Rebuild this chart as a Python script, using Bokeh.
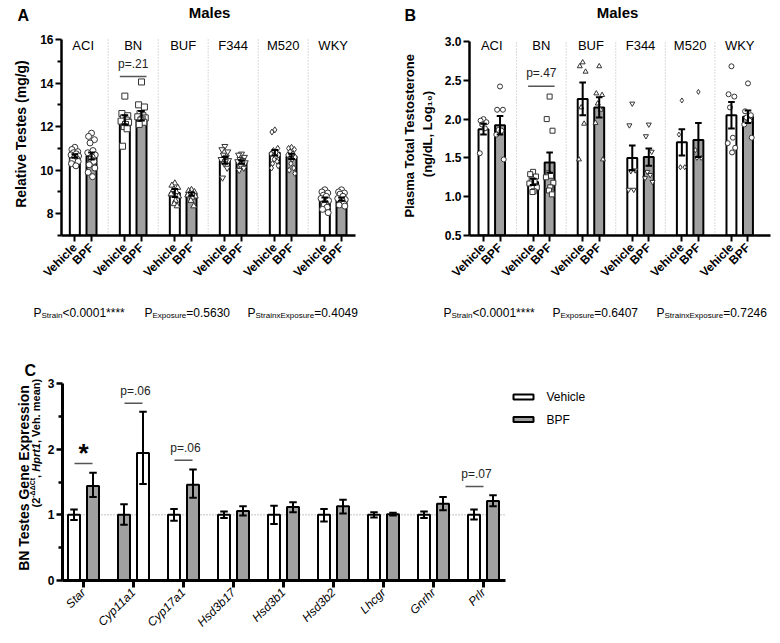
import math
from bokeh.plotting import figure
from bokeh.models import Range1d, FixedTicker, PrintfTickFormatter
from bokeh.layouts import column, row
from bokeh.embed import file_html
from bokeh.resources import INLINE
from bokeh.core.properties import value

# ======================= DATA =======================
strains = ["ACI", "BN", "BUF", "F344", "M520", "WKY"]
treatments = ["Vehicle", "BPF"]

# Panel A: relative testes weight (mg/g)
testes_veh_mean = [10.65, 12.30, 8.95, 10.45, 10.80, 8.65]
testes_bpf_mean = [10.65, 12.50, 8.90, 10.38, 10.63, 8.67]
testes_veh_sem = [0.08, 0.22, 0.18, 0.15, 0.13, 0.10]
testes_bpf_sem = [0.16, 0.22, 0.08, 0.08, 0.12, 0.07]
testes_veh_pts = [
    [11.05, 10.95, 10.85, 10.8, 10.75, 10.7, 10.65, 10.6, 10.55, 10.5, 10.45, 10.4, 10.3, 10.2],
    [13.4, 12.6, 12.5, 12.4, 12.3, 12.25, 12.2, 12.1, 12.0, 11.9, 11.1],
    [9.4, 9.3, 9.2, 9.1, 9.0, 8.9, 8.8, 8.6, 8.45, 8.35],
    [11.1, 10.95, 10.85, 10.7, 10.6, 10.5, 10.45, 10.4, 10.3, 10.1, 9.65],
    [11.85, 11.75, 11.0, 10.9, 10.8, 10.75, 10.7, 10.6, 10.5, 10.4, 10.3, 10.2, 10.1],
    [9.1, 9.0, 8.95, 8.85, 8.8, 8.7, 8.6, 8.5, 8.4, 8.3, 8.2, 8.05],
]
testes_bpf_pts = [
    [11.7, 11.55, 11.4, 11.25, 10.9, 10.8, 10.7, 10.6, 10.5, 10.4, 10.25, 10.1, 9.9, 9.7],
    [14.05, 13.0, 12.9, 12.6, 12.5, 12.45, 12.4, 12.35, 12.3, 12.2, 12.1],
    [9.1, 9.05, 9.0, 8.95, 8.9, 8.85, 8.8, 8.75, 8.6, 8.35],
    [10.75, 10.7, 10.6, 10.5, 10.45, 10.4, 10.35, 10.3, 10.2, 10.1, 10.0],
    [11.05, 11.0, 10.95, 10.85, 10.75, 10.7, 10.6, 10.5, 10.3, 10.1, 10.0, 9.85],
    [9.1, 9.0, 8.95, 8.9, 8.8, 8.7, 8.65, 8.6, 8.5, 8.45, 8.4, 8.35],
]
testes_pvals = [("Strain", "<0.0001****"), ("Exposure", "=0.5630"), ("StrainxExposure", "=0.4049")]
testes_bn_p = "p=.21"
testes_ylabel = "Relative Testes (mg/g)"

# Panel B: plasma total testosterone (log10 ng/dL)
testo_veh_mean = [1.87, 1.19, 2.26, 1.50, 1.70, 2.05]
testo_bpf_mean = [1.92, 1.44, 2.15, 1.51, 1.73, 2.03]
testo_veh_sem = [0.07, 0.04, 0.21, 0.16, 0.17, 0.17]
testo_bpf_sem = [0.12, 0.13, 0.13, 0.11, 0.22, 0.08]
testo_veh_pts = [
    [2.0, 1.98, 1.96, 1.93, 1.88, 1.56],
    [1.32, 1.29, 1.26, 1.22, 1.2, 1.17, 1.12, 1.07, 1.06],
    [2.73, 2.68, 2.61, 2.15, 1.94, 1.48],
    [2.2, 1.92, 1.34, 1.33, 1.09, 1.09],
    [2.24, 1.8, 1.38, 1.38],
    [2.68, 2.32, 2.29, 2.15, 1.76, 1.69, 1.63, 1.57],
]
testo_bpf_pts = [
    [2.42, 2.12, 2.12, 1.86, 1.85, 1.8, 1.48],
    [2.29, 2.0, 1.85, 1.3, 1.27, 1.25, 1.18, 1.12, 1.08, 1.03],
    [2.68, 2.33, 2.31, 2.2, 2.12, 1.95, 1.48],
    [1.93, 1.78, 1.58, 1.32, 1.28, 1.24, 1.19],
    [2.35, 1.6, 1.5, 1.5],
    [2.46, 2.1, 2.05, 2.02, 1.98, 1.93, 1.76],
]
testo_pvals = [("Strain", "<0.0001****"), ("Exposure", "=0.6407"), ("StrainxExposure", "=0.7246")]
testo_bn_p = "p=.47"
testo_ylabel = "Plasma  Total Testosterone\n(ng/dL, Log\u2081\u2080)"

# Panel C: BN testes gene expression
genes = ["Star", "Cyp11a1", "Cyp17a1", "Hsd3b17", "Hsd3b1", "Hsd3b2", "Lhcgr", "Gnrhr", "Prlr"]
gene_veh_mean = [1.0, 1.0, 1.0, 1.0, 1.0, 1.0, 1.0, 1.0, 1.0]
gene_veh_lo = [0.92, 0.85, 0.91, 0.95, 0.86, 0.90, 0.96, 0.95, 0.93]
gene_veh_hi = [1.08, 1.16, 1.09, 1.05, 1.14, 1.09, 1.04, 1.05, 1.08]
gene_bpf_mean = [1.44, 1.94, 1.46, 1.06, 1.12, 1.13, 1.01, 1.17, 1.21]
gene_bpf_lo = [1.27, 1.47, 1.26, 0.99, 1.04, 1.02, 0.99, 1.07, 1.13]
gene_bpf_hi = [1.64, 2.57, 1.69, 1.13, 1.19, 1.23, 1.03, 1.27, 1.30]
gene_sig = ["Star", "Cyp11a1", "Cyp17a1", "Prlr"]
gene_sig_text = ["*", "p=.06", "p=.06", "p=.07"]
gene_sig_line_y = [1.78, 2.70, 1.83, 1.43]
gene_colors_swapped = ["Cyp11a1"]
gene_ylabel_1 = "BN Testes Gene Expression"
gene_ylabel_2 = [("(2", "bold", 0), ("-ΔΔCt", "bold", 1), (", ", "bold", 0),
                 ("Hprt1", "bold italic", 0), (", Veh. mean)", "bold", 0)]

# ======================= STYLE =======================
FONT = "Liberation Sans"
GREY = "#a0a0a0"
MARKERS = ["circle", "square", "triangle", "inverted_triangle", "diamond", "circle"]
JIT = [0.0, -0.7, 0.7, -0.35, 0.35, -0.9, 0.9, 0.15, -0.15, 0.55, -0.55, 0.8, -0.8, 0.25]

BOLD_W = {'(': .333, ')': .333, '2': .556, '-': .333, 'Δ': .722, 'C': .722, 't': .333,
          ',': .278, ' ': .278, 'H': .722, 'p': .611, 'r': .389, '1': .556, 'V': .667,
          'e': .556, 'h': .611, '.': .278, 'm': .889, 'a': .556, 'n': .611, 'g': .611,
          '/': .278, 'd': .611, 'L': .611, 'o': .611, '0': .556, 'P': .667, 'B': .722,
          'N': .722, 'T': .611, 's': .556, 'G': .778, 'E': .667, 'x': .556, 'i': .278}
REG_W = {'S': .667, 't': .278, 'r': .333, 'a': .556, 'i': .222, 'n': .556, 'x': .5,
         'E': .667, 'p': .556, 'o': .556, 's': .5, 'u': .556, 'e': .556, 'P': .667}


def text_w(s, size, table=BOLD_W):
    return sum(table.get(c, .556) for c in s) * size


def txt(p, x, y, text, size, style="normal", align="left", baseline="alphabetic", angle=0.0, color="black"):
    p.text(x=[x], y=[y], text=[text], text_font=value(FONT), text_font_size=f"{size}px",
           text_font_style=style, text_align=align, text_baseline=baseline, angle=angle,
           text_color=color)


def base_fig(w, h, xr, yr, ml, mr, mt, mb, axes=True):
    kw = {} if axes else {"x_axis_type": None, "y_axis_type": None}
    p = figure(width=w, height=h, x_range=xr, y_range=yr, output_backend="svg",
               toolbar_location=None, min_border=0, min_border_left=ml, min_border_right=mr,
               min_border_top=mt, min_border_bottom=mb, **kw)
    p.outline_line_color = None
    p.grid.visible = False
    p.background_fill_color = "white"
    p.border_fill_color = "white"
    return p


def strip(w, h):
    return base_fig(w, h, Range1d(0, w), Range1d(0, h), 0, 0, 0, 0, axes=False)


def style_axes(p, xstyle, xsize, xwidth, tick_out):
    ax = p.xaxis[0]
    ax.axis_line_width = xwidth
    ax.major_tick_line_width = 2 if xwidth < 3 else 3
    ax.major_tick_out = tick_out
    ax.major_tick_in = 0
    ax.minor_tick_line_color = None
    ax.major_label_orientation = math.pi / 4
    ax.major_label_text_font = FONT
    ax.major_label_text_font_style = xstyle
    ax.major_label_text_font_size = xsize
    ax.major_label_text_color = "black"
    ax.major_label_standoff = 4
    ay = p.yaxis[0]
    ay.axis_line_width = xwidth
    ay.major_tick_line_width = 2
    ay.minor_tick_line_width = 2
    ay.major_tick_out = 6
    ay.major_tick_in = 0
    ay.minor_tick_out = 4
    ay.minor_tick_in = 0
    ay.major_label_text_font = FONT
    ay.major_label_text_font_style = "bold"
    ay.major_label_text_font_size = "12px"
    ay.major_label_text_color = "black"
    ay.major_label_standoff = 2
    ay.axis_label_text_font = FONT
    ay.axis_label_text_font_style = "bold"
    ay.axis_label_text_color = "black"


def strain_panel(p, y0, y1, vm, bm, vs, bs, vp, bp, cap, msize, fy):
    xv = [3 * i + 1 for i in range(len(strains))]
    xb = [3 * i + 2 for i in range(len(strains))]
    sep = [3 * i + 3 for i in range(len(strains) - 1)]
    p.segment(x0=sep, x1=sep, y0=y0, y1=y1, line_color="#b5b5b5", line_width=1, line_dash="1 2")
    p.vbar(x=xv, top=vm, bottom=y0, width=0.6, fill_color="white", line_color="black", line_width=2)
    p.vbar(x=xb, top=bm, bottom=y0, width=0.6, fill_color=GREY, line_color="black", line_width=2)
    px, py, mk = [], [], []
    for i in range(len(strains)):
        for xbase, pts in ((xv[i], vp[i]), (xb[i], bp[i])):
            for k, v in enumerate(pts):
                px.append(xbase + JIT[k % len(JIT)] * 0.25)
                py.append(v)
                mk.append(MARKERS[i])
    p.scatter(x=px, y=py, marker=mk, size=msize, fill_color="white", line_color="#333333", line_width=1)
    ex = xv + xb
    em = vm + bm
    es = vs + bs
    lo = [m - s for m, s in zip(em, es)]
    hi = [m + s for m, s in zip(em, es)]
    p.segment(x0=ex, x1=ex, y0=lo, y1=hi, line_color="black", line_width=2)
    p.segment(x0=[x - cap for x in ex], x1=[x + cap for x in ex], y0=hi, y1=hi, line_color="black", line_width=2)
    p.segment(x0=[x - cap for x in ex], x1=[x + cap for x in ex], y0=lo, y1=lo, line_color="black", line_width=2)
    centers = [3 * i + 1.5 for i in range(len(strains))]
    p.text(x=centers, y=[fy(45)] * len(strains), text=strains, text_font=value(FONT),
           text_font_size="13px", text_align="center", text_baseline="middle", text_color="black")
    style_axes(p, "bold", "12px", 2.5, 6)
    ax = p.xaxis[0]
    ticks = sorted(xv + xb)
    ax.ticker = FixedTicker(ticks=ticks)
    ax.major_label_overrides = {t: (treatments[0] if t % 3 == 1 else treatments[1]) for t in ticks}


# ======================= ROW 0: LETTERS & TITLES =======================
TOP_H = 32
sTop = strip(780, TOP_H)
txt(sTop, 17, TOP_H - 6, "A", 16, "bold", baseline="top")
txt(sTop, 404, TOP_H - 6, "B", 16, "bold", baseline="top")
txt(sTop, 209, TOP_H - 12, "Males", 15, "bold", align="center", baseline="middle")
txt(sTop, 617, TOP_H - 12, "Males", 15, "bold", align="center", baseline="middle")

# ======================= ROW 1: PANELS A & B =======================
ROW1_H = 265
FR_BOTTOM_A = 235 - TOP_H
FR_BOTTOM_B = 236 - TOP_H

# ---- panel A ; frame left at page 61
XA0, XA1 = 0.2, 17.84
A_FW = 294
SXA = A_FW / (XA1 - XA0)
SYA = 196 / 9.0
YA_LO, YA_TOP = 7, 16
YA1 = YA_LO + FR_BOTTOM_A / SYA


def A_y(py):
    return YA_LO + (235 - py) / SYA


pA = base_fig(380, ROW1_H, Range1d(XA0, XA1), Range1d(YA_LO, YA1), 61, 380 - 61 - A_FW, 0, ROW1_H - FR_BOTTOM_A)
strain_panel(pA, YA_LO, YA_TOP, testes_veh_mean, testes_bpf_mean, testes_veh_sem, testes_bpf_sem,
             testes_veh_pts, testes_bpf_pts, 0.2, 6, A_y)
pA.yaxis[0].ticker = FixedTicker(ticks=[8, 10, 12, 14, 16], minor_ticks=[7, 9, 11, 13, 15])
pA.yaxis[0].bounds = (YA_LO, YA_TOP)
pA.yaxis[0].axis_label = testes_ylabel
pA.yaxis[0].axis_label_text_font_size = "14px"
pA.yaxis[0].axis_label_standoff = 8
pA.segment(x0=[3.7], x1=[5.3], y0=[A_y(76)], y1=[A_y(76)], line_color="#555555", line_width=1.5)
txt(pA, 4.5, A_y(63), testes_bn_p, 12, align="center", baseline="middle", color="#222222")

# ---- panel B ; frame left at page 469
XB0 = 0.153
B_FW = 301
XB1 = XB0 + B_FW / 16.53
SYB = 195 / 2.5
YB_LO, YB_TOP = 0.5, 3.0
YB1 = YB_LO + FR_BOTTOM_B / SYB


def B_y(py):
    return YB_LO + (236 - py) / SYB


pB = base_fig(400, ROW1_H, Range1d(XB0, XB1), Range1d(YB_LO, YB1), 89, 400 - 89 - B_FW, 0, ROW1_H - FR_BOTTOM_B)
strain_panel(pB, YB_LO, YB_TOP, testo_veh_mean, testo_bpf_mean, testo_veh_sem, testo_bpf_sem,
             testo_veh_pts, testo_bpf_pts, 0.2, 5, B_y)
pB.yaxis[0].ticker = FixedTicker(ticks=[0.5, 1.0, 1.5, 2.0, 2.5, 3.0], minor_ticks=[])
pB.yaxis[0].formatter = PrintfTickFormatter(format="%.1f")
pB.yaxis[0].bounds = (YB_LO, YB_TOP)
pB.yaxis[0].axis_label = testo_ylabel
pB.yaxis[0].axis_label_text_font_size = "13px"
pB.yaxis[0].axis_label_standoff = 7
pB.segment(x0=[3.7], x1=[5.3], y0=[B_y(86)], y1=[B_y(86)], line_color="#555555", line_width=1.5)
txt(pB, 4.5, B_y(73), testo_bn_p, 12, align="center", baseline="middle", color="#222222")

# ======================= ROW 2: P-VALUE LINE =======================
P_H = 25
sP = strip(780, P_H)
for starts, pvals in (([33, 144, 247], testes_pvals), ([443, 552, 656], testo_pvals)):
    for x0, (sub, rest) in zip(starts, pvals):
        txt(sP, x0, P_H - 15, "P", 12)
        sx = x0 + text_w("P", 12, REG_W)
        txt(sP, sx, P_H - 18, sub, 8)
        rx = sx + text_w(sub, 8, REG_W)
        txt(sP, rx, P_H - 15, rest, 12)

# ======================= ROW 3: PANEL C =======================
ROW3_TOP = TOP_H + ROW1_H + P_H
ROW3_H = 640 - ROW3_TOP
C_FH = 580 - ROW3_TOP          # frame height (frame spans page ROW3_TOP .. 580)
C_BB = ROW3_H - C_FH           # bottom border

# ---- text strip left of C; its frame is aligned with pC's frame (page ROW3_TOP..580)
SC_W = 44
sC = base_fig(SC_W, ROW3_H, Range1d(0, SC_W), Range1d(0, C_FH), 0, 0, 0, C_BB, axes=False)


def SC_y(py):
    return 580 - py


txt(sC, 24, SC_y(361), "C", 16, "bold", baseline="top")
l1_start = 477 + text_w(gene_ylabel_1, 14) / 2
txt(sC, 18 + 0.36 * 14, SC_y(l1_start), gene_ylabel_1, 14, "bold", angle=math.pi / 2)
yc = 507
cx = 32 + 0.36 * 11
for t, style, sup in gene_ylabel_2:
    size = 7 if sup else 11
    txt(sC, cx - 4 * sup, SC_y(yc), t, size, style, angle=math.pi / 2)
    yc -= text_w(t, size)

# ---- panel C ; frame left at page 62
XC0 = -0.42
C_FW = 708
XC1 = XC0 + C_FW / 50.0
XC_AXIS_END = 8.44
SYC = 197 / 3.0
YC_LO, YC_TOP = 0, 3
YC1 = C_FH / SYC


def C_x(px):
    return XC0 + (px - 62) / 50.0


def C_y(py):
    return (580 - py) / SYC


pC = base_fig(736, ROW3_H, Range1d(XC0, XC1), Range1d(YC_LO, YC1), 18, 736 - 18 - C_FW, 0, C_BB)
gx = list(range(len(genes)))
xv = [g - 0.19 for g in gx]
xb = [g + 0.19 for g in gx]
veh_fill = [GREY if g in gene_colors_swapped else "white" for g in genes]
bpf_fill = ["white" if g in gene_colors_swapped else GREY for g in genes]
pC.segment(x0=[XC0], x1=[XC_AXIS_END], y0=[1.0], y1=[1.0], line_color="#8a8a8a", line_width=1, line_dash="1 2")
pC.vbar(x=xv, top=gene_veh_mean, bottom=0, width=0.24, fill_color=veh_fill, line_color="black", line_width=2)
pC.vbar(x=xb, top=gene_bpf_mean, bottom=0, width=0.24, fill_color=bpf_fill, line_color="black", line_width=2)
ex = xv + xb
lo = gene_veh_lo + gene_bpf_lo
hi = gene_veh_hi + gene_bpf_hi
cap = 0.075
pC.segment(x0=ex, x1=ex, y0=lo, y1=hi, line_color="black", line_width=2)
pC.segment(x0=[x - cap for x in ex], x1=[x + cap for x in ex], y0=hi, y1=hi, line_color="black", line_width=2)
pC.segment(x0=[x - cap for x in ex], x1=[x + cap for x in ex], y0=lo, y1=lo, line_color="black", line_width=2)
sig_x = [genes.index(g) for g in gene_sig]
sig_x = [x - 0.18 if g == "Prlr" else x for x, g in zip(sig_x, gene_sig)]
pC.segment(x0=[x - 0.18 for x in sig_x], x1=[x + 0.18 for x in sig_x], y0=gene_sig_line_y,
           y1=gene_sig_line_y, line_color="#555555", line_width=1.5)
for x, t, ly in zip(sig_x, gene_sig_text, gene_sig_line_y):
    if t == "*":
        txt(pC, x, ly + 11 / SYC, t, 26, "bold", align="center", baseline="middle")
    else:
        txt(pC, x + 0.04, ly + 0.19, t, 12, align="center", baseline="middle", color="#222222")
leg_y = [C_y(396.5), C_y(419)]
pC.quad(left=[C_x(513)] * 2, right=[C_x(533)] * 2, bottom=[y - 2.5 / SYC for y in leg_y],
        top=[y + 2.5 / SYC for y in leg_y], fill_color=["white", GREY], line_color="black", line_width=2)
pC.text(x=[C_x(546)] * 2, y=leg_y, text=treatments, text_font=value(FONT), text_font_size="12px",
        text_align="left", text_baseline="middle", text_color="black")
style_axes(pC, "italic", "12px", 3, 7)
ax = pC.xaxis[0]
ax.ticker = FixedTicker(ticks=gx)
ax.major_label_overrides = {i: g for i, g in enumerate(genes)}
ax.bounds = (XC0, XC_AXIS_END)
ax.major_label_standoff = 3
ay = pC.yaxis[0]
ay.ticker = FixedTicker(ticks=[0, 1, 2, 3], minor_ticks=[0.5, 1.5, 2.5])
ay.bounds = (YC_LO, YC_TOP)
ay.major_tick_line_width = 2.5
ay.minor_tick_line_width = 2.5

layout = column(sTop, row(pA, pB), sP, row(sC, pC))
open("out.html", "w").write(file_html(layout, INLINE))
